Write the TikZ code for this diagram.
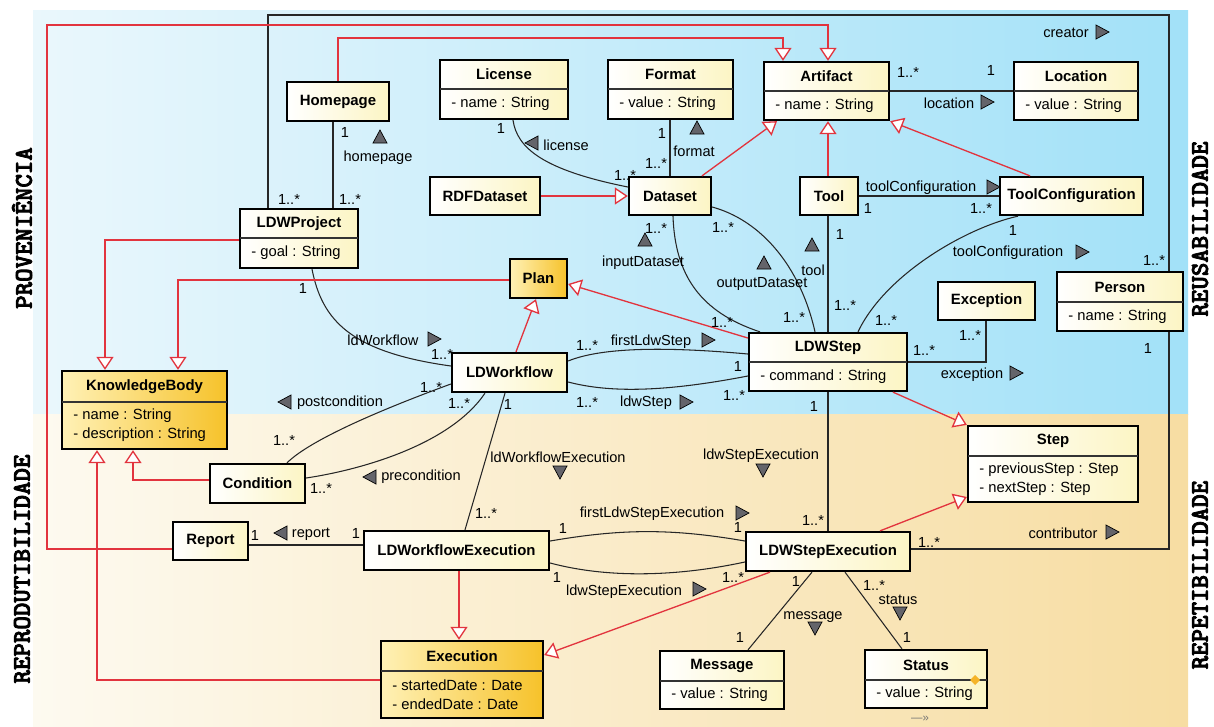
\documentclass[tikz,border=0pt]{standalone}
\usepackage{fontspec}
\setmainfont{Liberation Sans}
\newfontfamily\sidefont{lmmonolt10-bold.otf}[FakeBold=3]
\usetikzlibrary{arrows.meta,fit}

\definecolor{genred}{RGB}{226,52,62}
\definecolor{boxtint}{RGB}{252,245,196}
\definecolor{keytintA}{RGB}{255,241,182}
\definecolor{keytintB}{RGB}{246,194,42}
\definecolor{skyA}{RGB}{234,247,252}
\definecolor{skyB}{RGB}{162,225,248}
\definecolor{sandA}{RGB}{253,250,240}
\definecolor{sandB}{RGB}{247,221,162}
\definecolor{navgray}{RGB}{100,100,106}
\definecolor{diamondgold}{RGB}{245,180,40}

\tikzset{
  classbox/.style={draw, line width=1.3pt, inner sep=0pt, left color=white, right color=boxtint},
  keybox/.style={classbox, left color=keytintA, right color=keytintB},
  titletext/.style={font=\bfseries\fontsize{8.5}{10}\selectfont, inner sep=0pt},
  attrtext/.style={font=\fontsize{8.4}{10.8}\selectfont, align=left, inner sep=0pt, anchor=west},
  lbl/.style={font=\fontsize{8.3}{10}\selectfont, inner sep=0pt},
  side/.style={font=\sidefont\fontsize{14.6}{16}\selectfont, inner sep=0pt, rotate=90},
  assoc/.style={draw=black!85, line width=0.6pt},
  gen/.style={draw=genred, line width=0.75pt, -{Triangle[length=0.26cm, width=0.34cm, fill=white]}},
  navtri/.pic={\filldraw[fill=navgray, draw=black, line width=0.4pt] (7,0) -- (-6,7) -- (-6,-7) -- cycle;}
}

% class with name only: [style]{name}{x1}{y1}{x2}{y2}{title}
\newcommand\umlclass[7][classbox]{%
  \node[#1, fit={(#3,#4) (#5,#6)}] (#2) {};
  \node[titletext] (#2-name) at (#2.center) {#7};
}
% class with attributes: [style]{name}{x1}{y1}{x2}{y2}{ydiv}{title}{attributes}
\newcommand\umlattrs[9][classbox]{%
  \node[#1, fit={(#3,#4) (#5,#6)}] (#2) {};
  \draw[line width=0.8pt, black!80] (#3,#7) -- (#5,#7);
  \node[titletext] (#2-name) at ({(#3+#5)/2},{(#4+#7)/2}) {#8};
  \node[attrtext] (#2-attr) at ({#3+11},{(#7+#6)/2}) {#9};
}

\begin{document}
\begin{tikzpicture}[x=0.02cm, y=-0.02cm]
\useasboundingbox (0,0) rectangle (1214,727);

% panels
\shade[left color=skyA, right color=skyB] (33,10) rectangle (1188,414);
\shade[left color=sandA, right color=sandB] (33,414) rectangle (1188,727);
\node[side] (prov) at (22,228) {PROVENIÊNCIA};
\node[side] (repro) at (22,569) {REPRODUTIBILIDADE};
\node[side] (reuse) at (1200,229) {REUSABILIDADE};
\node[side] (repet) at (1200,575) {REPETIBILIDADE};

% classes
\umlclass{homepage}{287}{82}{389}{121}{Homepage}
\umlattrs{ldwproject}{240}{209}{358}{268}{238}{LDWProject}{- goal : String}
\umlattrs{license}{440}{60}{568}{119}{89}{License}{- name : String}
\umlattrs{format}{608}{60}{733}{119}{89}{Format}{- value : String}
\umlattrs{artifact}{764}{62}{889}{120}{91}{Artifact}{- name : String}
\umlattrs{location}{1014}{62}{1138}{120}{91}{Location}{- value : String}
\umlclass{rdfdataset}{430}{177}{540}{215}{RDFDataset}
\umlclass{dataset}{629}{177}{711}{215}{Dataset}
\umlclass{tool}{800}{177}{858}{215}{Tool}
\umlclass{toolconf}{1000}{177}{1143}{215}{ToolConfiguration}
\umlclass[keybox]{plan}{510}{259}{567}{298}{Plan}
\umlattrs{ldwstep}{749}{333}{907}{391}{362}{LDWStep}{- command : String}
\umlclass{exception}{938}{282}{1035}{320}{Exception}
\umlattrs{person}{1057}{272}{1183}{331}{302}{Person}{- name : String}
\umlclass{ldwworkflow}{452}{353}{567}{392}{LDWorkflow}
\umlattrs[keybox]{knowledgebody}{62}{371}{227}{449}{402}{KnowledgeBody}{- name : String\\- description : String}
\umlclass{condition}{210}{464}{305}{503}{Condition}
\umlattrs{step}{968}{426}{1138}{502}{456}{Step}{- previousStep : Step\\- nextStep : Step}
\umlclass{report}{173}{522}{248}{560}{Report}
\umlclass{ldwwfexec}{364}{531}{549}{570}{LDWorkflowExecution}
\umlclass{ldwstepexec}{746}{532}{910}{571}{LDWStepExecution}
\umlattrs[keybox]{execution}{381}{641}{543}{718}{671}{Execution}{- startedDate : Date\\- endedDate : Date}
\umlattrs{message}{660}{651}{784}{709}{681}{Message}{- value : String}
\umlattrs{status}{865}{650}{987}{708}{680}{Status}{- value : String}
\fill[diamondgold] (970,680) -- (975,675) -- (980,680) -- (975,685) -- cycle;
\node[lbl, text=black!55, font=\fontsize{6.5}{8}\selectfont] (statusmore) at (920,719) {—»};

% associations
\draw[assoc] (homepage.south -| 333,0) -- (ldwproject.north -| 333,0);
\draw[assoc] (ldwproject.north -| 268,0) |- (1169,15) -- (person.north -| 1169,0);
\draw[assoc] (license.south -| 513,0) .. controls (517,148) and (543,170) .. (dataset.west |- 0,187);
\draw[assoc] (format.south -| 670,0) -- (dataset.north -| 670,0);
\draw[assoc] (artifact.east |- 0,91) -- (location.west |- 0,91);
\draw[assoc] (tool.east |- 0,196) -- (toolconf.west |- 0,196);
\draw[assoc] (dataset.south -| 673,0) .. controls (675,275) and (700,312) .. (ldwstep.north -| 760,0);
\draw[assoc] (dataset.east |- 0,207) .. controls (760,220) and (800,265) .. (ldwstep.north -| 815,0);
\draw[assoc] (tool.south -| 828,0) -- (ldwstep.north -| 828,0);
\draw[assoc] (toolconf.south -| 1018,0) .. controls (965,228) and (885,275) .. (ldwstep.north -| 858,0);
\draw[assoc] (ldwstep.east |- 0,362) -| (exception.south -| 986,0);
\draw[assoc] (ldwproject.south -| 312,0) .. controls (322,320) and (350,352) .. (ldwworkflow.west |- 0,366);
\draw[assoc] (ldwworkflow.east |- 0,361) .. controls (600,348) and (660,346) .. (ldwstep.west |- 0,354);
\draw[assoc] (ldwworkflow.east |- 0,382) .. controls (610,393) and (665,392) .. (ldwstep.west |- 0,376);
\draw[assoc] (condition.north -| 287,0) .. controls (310,440) and (380,410) .. (ldwworkflow.west |- 0,384);
\draw[assoc] (condition.east |- 0,478) .. controls (360,470) and (450,445) .. (ldwworkflow.south -| 485,0);
\draw[assoc] (ldwworkflow.south -| 505,0) -- (ldwwfexec.north -| 465,0);
\draw[assoc] (report.east |- 0,545) -- (ldwwfexec.west |- 0,545);
\draw[assoc] (ldwwfexec.east |- 0,541) .. controls (620,529) and (670,528) .. (ldwstepexec.west |- 0,541);
\draw[assoc] (ldwwfexec.east |- 0,563) .. controls (610,579) and (680,576) .. (ldwstepexec.west |- 0,562);
\draw[assoc] (ldwstep.south -| 828,0) -- (ldwstepexec.north -| 828,0);
\draw[assoc] (ldwstepexec.south -| 812,0) -- (message.north -| 748,0);
\draw[assoc] (ldwstepexec.south -| 845,0) -- (status.north -| 902,0);
\draw[assoc] (ldwstepexec.east |- 0,549) -| (person.south -| 1169,0);

% generalizations
\draw[gen] (report.west |- 0,549) -| (47,25) -| (artifact.north -| 828,0);
\draw[gen] (homepage.north -| 338,0) |- (783,38) -- (artifact.north -| 783,0);
\draw[gen] (dataset.north -| 702,0) -- (artifact.south -| 777,0);
\draw[gen] (tool.north -| 828,0) -- (artifact.south -| 828,0);
\draw[gen] (toolconf.north -| 1030,0) -- (artifact.south east);
\draw[gen] (rdfdataset.east |- 0,196) -- (dataset.west |- 0,196);
\draw[gen] (ldwproject.west |- 0,240) -| (knowledgebody.north -| 105,0);
\draw[gen] (plan.west |- 0,280) -| (knowledgebody.north -| 178,0);
\draw[gen] (ldwworkflow.north -| 516,0) -- (plan.south -| 536,0);
\draw[gen] (ldwstep.west |- 0,338) -- (plan.east |- 0,284);
\draw[gen] (condition.west |- 0,480) -| (knowledgebody.south -| 133,0);
\draw[gen] (execution.west |- 0,680) -| (knowledgebody.south -| 97,0);
\draw[gen] (ldwstep.south -| 893,0) -- (step.north west);
\draw[gen] (ldwstepexec.north -| 880,0) -- (step.west |- 0,497);
\draw[gen] (ldwwfexec.south -| 459,0) -- (execution.north -| 459,0);
\draw[gen] (ldwstepexec.south -| 770,0) -- (execution.east |- 0,655);

% role names and multiplicities
\foreach \px/\py/\txt [count=\i] in {
  345/132/1, 350/199/1..*, 289/199/1..*, 378/158/homepage,
  501/128/1, 566/145/license, 625/175/1..*,
  662/133/1, 694/151/format, 656/163/1..*,
  656/228/1..*, 643/263/inputDataset, 723/227/1..*, 762/284/outputDataset,
  722/322/1..*, 794/317/1..*,
  868/208/1, 981/208/1..*, 921/188/toolConfiguration,
  840/234/1, 813/270/tool, 845/305/1..*,
  1013/230/1, 1008/253/toolConfiguration, 886/320/1..*,
  924/350/1..*, 970/335/1..*, 972/375/exception,
  1154/260/1..*, 1148/348/1,
  908/72/1..*, 991/70/1, 949/103/location, 1066/33/creator,
  303/288/1, 383/340/ldWorkflow, 442/354/1..*,
  587/345/1..*, 651/342/firstLdwStep, 738/366/1,
  587/402/1..*, 646/403/ldwStep, 734/395/1..*, 814/406/1,
  340/403/postcondition, 284/440/1..*, 431/387/1..*, 459/403/1..*, 508/404/1,
  421/477/precondition, 321/488/1..*,
  558/457/ldWorkflowExecution, 761/456/ldwStepExecution,
  486/513/1..*, 813/520/1..*,
  255/535/1, 311/534/report, 356/533/1,
  652/514/firstLdwStepExecution, 563/528/1, 738/527/1,
  557/577/1, 624/592/ldwStepExecution, 733/577/1..*,
  796/581/1, 813/617/message, 740/637/1,
  874/585/1..*, 898/600/status, 907/637/1,
  929/542/1..*, 1063/533/contributor}
  \node[lbl] (lab\i) at (\px,\py) {\txt};

% navigation triangles
\foreach \px/\py/\ang in {380/137/90, 532/143/180, 697/128/90, 645/240/90,
  764/263/90, 812/245/90, 993/187/0, 1082/252/0, 1016/373/0, 987/102/0,
  1102/32/0, 434/339/0, 708/340/0, 686/402/0, 285/402/180, 370/477/180,
  560/472/270, 763/470/270, 281/533/180, 742/513/0, 699/589/0,
  815/628/270, 900/613/270, 1112/532/0}
  \pic[rotate=\ang] at (\px,\py) {navtri};
\end{tikzpicture}
\end{document}
